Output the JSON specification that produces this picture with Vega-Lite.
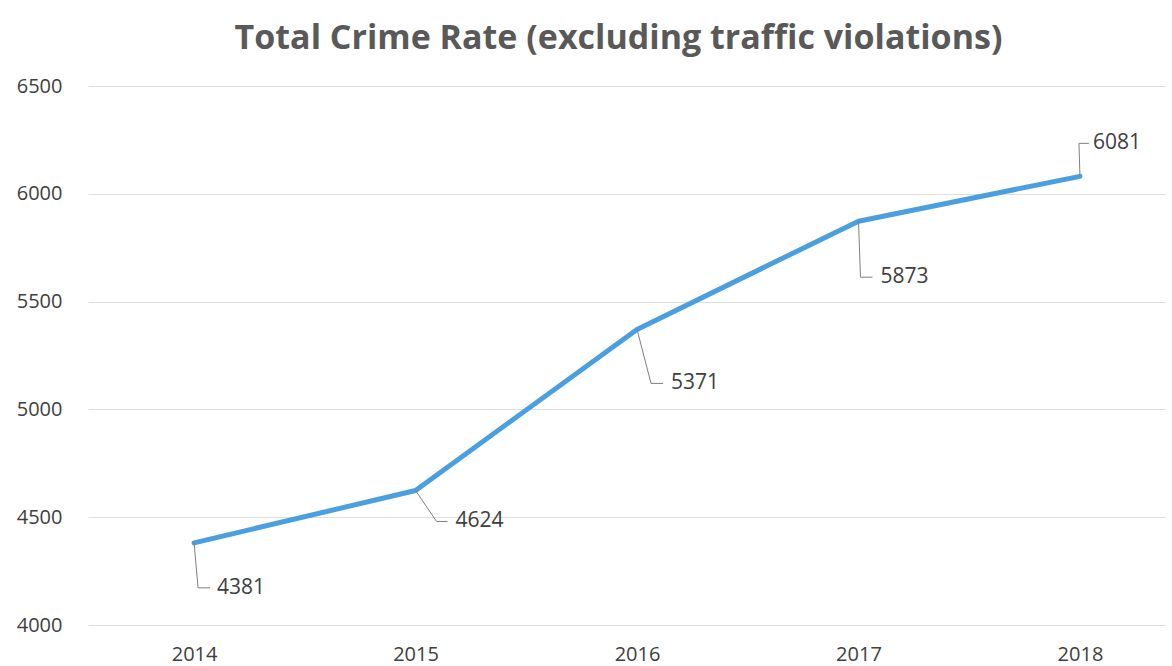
{
  "$schema": "https://vega.github.io/schema/vega-lite/v6.json",
  "width": 1077,
  "height": 539,
  "autosize": "none",
  "padding": {"left": 88, "top": 86, "right": 7, "bottom": 41},
  "background": "white",
  "title": {
    "text": "Total Crime Rate (excluding traffic violations)",
    "font": "Open Sans",
    "fontSize": 34,
    "fontWeight": "bold",
    "color": "#595959",
    "anchor": "middle",
    "offset": 20,
    "dx": -8
  },
  "config": {
    "view": {"stroke": null},
    "axis": {"labelFont": "Open Sans", "labelFontSize": 20, "labelColor": "#404040"}
  },
  "data": {
    "values": [
      {"year": 2014, "value": 4381},
      {"year": 2015, "value": 4624},
      {"year": 2016, "value": 5371},
      {"year": 2017, "value": 5873},
      {"year": 2018, "value": 6081}
    ]
  },
  "encoding": {
    "x": {
      "field": "year", "type": "quantitative",
      "scale": {"domain": [2013.521, 2018.384], "nice": false, "zero": false},
      "axis": {"title": null, "values": [2014, 2015, 2016, 2017, 2018], "format": "d", "labelAngle": 0, "domain": false, "ticks": false, "grid": false, "labelPadding": 19}
    },
    "y": {
      "field": "value", "type": "quantitative",
      "scale": {"domain": [4000, 6500], "nice": false, "zero": false},
      "axis": {"title": null, "values": [4000, 4500, 5000, 5500, 6000, 6500], "format": "d", "domain": false, "ticks": false, "labelPadding": 26, "gridColor": "#dedede", "gridWidth": 1}
    }
  },
  "layer": [
    {"mark": {"type": "line", "color": "#4a9fe0", "strokeWidth": 5, "strokeCap": "round", "strokeJoin": "round"}},
    {
      "transform": [{"filter": "datum.year == 2014"}],
      "layer": [
        {"mark": {"type": "rule", "color": "#7f7f7f", "strokeWidth": 1, "x2Offset": 4, "y2Offset": 45}, "encoding": {"x2": {"field": "year"}, "y2": {"field": "value"}}},
        {"mark": {"type": "rule", "color": "#7f7f7f", "strokeWidth": 1, "xOffset": 4, "yOffset": 45, "x2Offset": 16, "y2Offset": 45}, "encoding": {"x2": {"field": "year"}, "y2": {"field": "value"}}},
        {"mark": {"type": "text", "font": "Open Sans", "fontSize": 21, "color": "#404040", "align": "left", "baseline": "middle", "dx": 23, "dy": 45}, "encoding": {"text": {"field": "value", "format": "d"}}}
      ]
    },
    {
      "transform": [{"filter": "datum.year == 2015"}],
      "layer": [
        {"mark": {"type": "rule", "color": "#7f7f7f", "strokeWidth": 1, "x2Offset": 21, "y2Offset": 31}, "encoding": {"x2": {"field": "year"}, "y2": {"field": "value"}}},
        {"mark": {"type": "rule", "color": "#7f7f7f", "strokeWidth": 1, "xOffset": 21, "yOffset": 31, "x2Offset": 32, "y2Offset": 31}, "encoding": {"x2": {"field": "year"}, "y2": {"field": "value"}}},
        {"mark": {"type": "text", "font": "Open Sans", "fontSize": 21, "color": "#404040", "align": "left", "baseline": "middle", "dx": 40, "dy": 31}, "encoding": {"text": {"field": "value", "format": "d"}}}
      ]
    },
    {
      "transform": [{"filter": "datum.year == 2016"}],
      "layer": [
        {"mark": {"type": "rule", "color": "#7f7f7f", "strokeWidth": 1, "x2Offset": 14, "y2Offset": 54}, "encoding": {"x2": {"field": "year"}, "y2": {"field": "value"}}},
        {"mark": {"type": "rule", "color": "#7f7f7f", "strokeWidth": 1, "xOffset": 14, "yOffset": 54, "x2Offset": 26, "y2Offset": 54}, "encoding": {"x2": {"field": "year"}, "y2": {"field": "value"}}},
        {"mark": {"type": "text", "font": "Open Sans", "fontSize": 21, "color": "#404040", "align": "left", "baseline": "middle", "dx": 34, "dy": 54}, "encoding": {"text": {"field": "value", "format": "d"}}}
      ]
    },
    {
      "transform": [{"filter": "datum.year == 2017"}],
      "layer": [
        {"mark": {"type": "rule", "color": "#7f7f7f", "strokeWidth": 1, "x2Offset": 2, "y2Offset": 56}, "encoding": {"x2": {"field": "year"}, "y2": {"field": "value"}}},
        {"mark": {"type": "rule", "color": "#7f7f7f", "strokeWidth": 1, "xOffset": 2, "yOffset": 56, "x2Offset": 14, "y2Offset": 56}, "encoding": {"x2": {"field": "year"}, "y2": {"field": "value"}}},
        {"mark": {"type": "text", "font": "Open Sans", "fontSize": 21, "color": "#404040", "align": "left", "baseline": "middle", "dx": 22, "dy": 56}, "encoding": {"text": {"field": "value", "format": "d"}}}
      ]
    },
    {
      "transform": [{"filter": "datum.year == 2018"}],
      "layer": [
        {"mark": {"type": "rule", "color": "#7f7f7f", "strokeWidth": 1, "x2Offset": -1, "y2Offset": -33}, "encoding": {"x2": {"field": "year"}, "y2": {"field": "value"}}},
        {"mark": {"type": "rule", "color": "#7f7f7f", "strokeWidth": 1, "xOffset": -1, "yOffset": -33, "x2Offset": 9, "y2Offset": -33}, "encoding": {"x2": {"field": "year"}, "y2": {"field": "value"}}},
        {"mark": {"type": "text", "font": "Open Sans", "fontSize": 21, "color": "#404040", "align": "left", "baseline": "middle", "dx": 13, "dy": -33}, "encoding": {"text": {"field": "value", "format": "d"}}}
      ]
    }
  ]
}
